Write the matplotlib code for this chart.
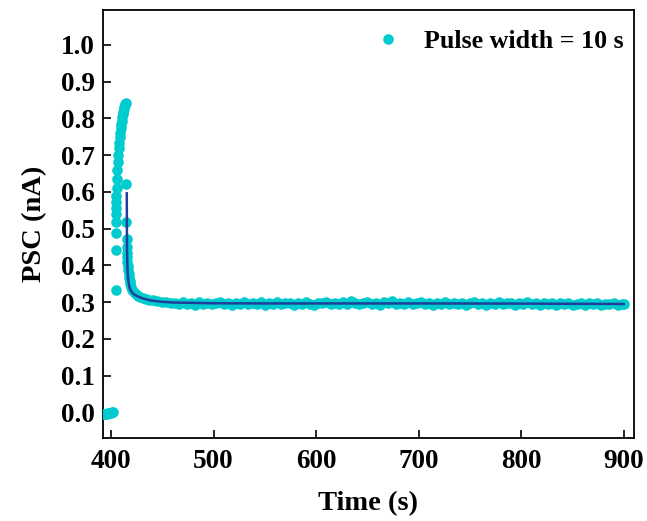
import numpy as np
import matplotlib
matplotlib.use("Agg")
import matplotlib.pyplot as plt
from matplotlib.lines import Line2D

plt.rcParams['font.family'] = ['Liberation Serif', 'DejaVu Serif']
plt.rcParams['font.weight'] = 'bold'

# ---- data ----
base_t = [388, 389, 390, 391, 392, 393, 394, 395, 396, 397, 398, 399, 400, 401, 402.3]
base_v = [-0.006, -0.006, -0.005, -0.005, -0.005, -0.004, -0.004, -0.003, -0.003, -0.002,
          -0.002, -0.001, -0.001, 0.000, 0.001]

rise_t = [404.5, 404.6, 404.7, 404.8, 404.9, 405.0, 405.1, 405.2, 405.4, 405.7, 406.1, 406.5,
          407.0, 407.5, 408.0, 408.5, 409.0, 409.5, 410.0, 410.5, 411.0, 411.5, 412.0, 412.5,
          413.0, 413.5, 414.0, 414.4]
rise_v = [0.332, 0.441, 0.487, 0.517, 0.540, 0.556, 0.572, 0.588, 0.610, 0.635, 0.660, 0.680,
          0.700, 0.718, 0.734, 0.748, 0.761, 0.773, 0.784, 0.794, 0.803, 0.811, 0.818, 0.825,
          0.831, 0.836, 0.840, 0.843]

decay_t = [414.6, 415.0, 415.2, 415.4, 415.6, 415.8, 416.0, 416.3, 416.6, 417.0, 417.5, 418.0,
           418.5, 419.5, 420.5, 422, 424, 426, 428, 431, 434, 437, 441, 445, 450, 454, 458]
decay_v = [0.621, 0.517, 0.473, 0.450, 0.435, 0.422, 0.410, 0.398, 0.388, 0.377, 0.366, 0.357,
           0.350, 0.340, 0.333, 0.327, 0.322, 0.318, 0.315, 0.312, 0.309, 0.307, 0.305, 0.303,
           0.301, 0.300, 0.299]

plateau_t = list(range(462, 899, 4)) + [900]
plateau_v = [0.299, 0.296, 0.301, 0.295, 0.298, 0.293, 0.300, 0.296, 0.299, 0.294,
             0.297, 0.301, 0.295, 0.298, 0.292, 0.299, 0.296, 0.300, 0.294, 0.297,
             0.295, 0.300, 0.293, 0.298, 0.296, 0.301, 0.294, 0.297, 0.299, 0.292,
             0.298, 0.295, 0.300, 0.296, 0.293, 0.299, 0.297, 0.301, 0.294, 0.298,
             0.296, 0.300, 0.295, 0.302, 0.297, 0.294, 0.299, 0.301, 0.296, 0.298,
             0.293, 0.300, 0.297, 0.302, 0.295, 0.299, 0.296, 0.301, 0.294, 0.298,
             0.300, 0.295, 0.297, 0.293, 0.299, 0.296, 0.300, 0.294, 0.298, 0.295,
             0.299, 0.292, 0.297, 0.300, 0.295, 0.298, 0.293, 0.299, 0.296, 0.300,
             0.294, 0.297, 0.299, 0.293, 0.298, 0.295, 0.300, 0.294, 0.297, 0.292,
             0.298, 0.295, 0.299, 0.293, 0.297, 0.294, 0.298, 0.292, 0.296, 0.299,
             0.293, 0.297, 0.295, 0.298, 0.292, 0.296, 0.294, 0.297, 0.293, 0.295,
             0.294]

fit_t = [415.3, 415.4, 415.5, 415.7, 416.0, 416.5, 417.0, 418.0, 419.0, 420.0, 422.0, 425.0,
         430.0, 435.0, 440.0, 450.0, 460.0, 480.0, 500.0, 550.0, 600.0, 700.0, 800.0, 900.0]
fit_v = [0.596, 0.520, 0.460, 0.420, 0.392, 0.368, 0.354, 0.340, 0.333, 0.328, 0.322, 0.317,
         0.311, 0.307, 0.304, 0.301, 0.299, 0.298, 0.297, 0.2965, 0.2965, 0.2965, 0.296, 0.295]

legend_label = "Pulse width = 10 s"
x_ticks = [400, 500, 600, 700, 800, 900]
y_ticks = [0.0, 0.1, 0.2, 0.3, 0.4, 0.5, 0.6, 0.7, 0.8, 0.9, 1.0]

t_all = base_t + rise_t + decay_t + plateau_t
v_all = base_v + rise_v + decay_v + plateau_v

# ---- figure ----
fig = plt.figure(figsize=(6.47, 5.21), dpi=100)
ax = fig.add_axes([0.159, 0.159, 0.821, 0.822])

cyan = '#00CCCF'
ms = 7.6
ax.plot(t_all, v_all, ls='none', marker='o', ms=ms, mfc=cyan, mec=cyan, mew=0.0, zorder=3,
        label=legend_label)

ax.plot(fit_t, fit_v, '-', color='#1F3F9A', lw=1.8, zorder=4)

ax.set_xlim(392, 910)
ax.set_ylim(-0.07, 1.095)
ax.set_xticks(x_ticks)
ax.set_yticks(y_ticks)
ax.set_yticklabels([f"{y:.1f}" for y in y_ticks])
ax.tick_params(direction='in', length=6, width=1.2, labelsize=19.5)
ax.tick_params(axis='x', pad=8)
ax.tick_params(axis='y', pad=6)
for lbl in ax.get_xticklabels() + ax.get_yticklabels():
    lbl.set_fontweight('bold')
for sp in ax.spines.values():
    sp.set_linewidth(1.3)

ax.set_xlabel("Time (s)", fontsize=20.5, fontweight='bold', labelpad=12)
ax.set_ylabel("PSC (nA)", fontsize=20.5, fontweight='bold', labelpad=10)

ax.legend(handles=[ax.lines[0]], loc='upper right', bbox_to_anchor=(1.0, 0.978), borderaxespad=0.0,
          frameon=False, prop={'weight': 'bold', 'size': 18.7},
          handlelength=1.0, handletextpad=0.9)

fig.savefig("out.png", dpi=100)
